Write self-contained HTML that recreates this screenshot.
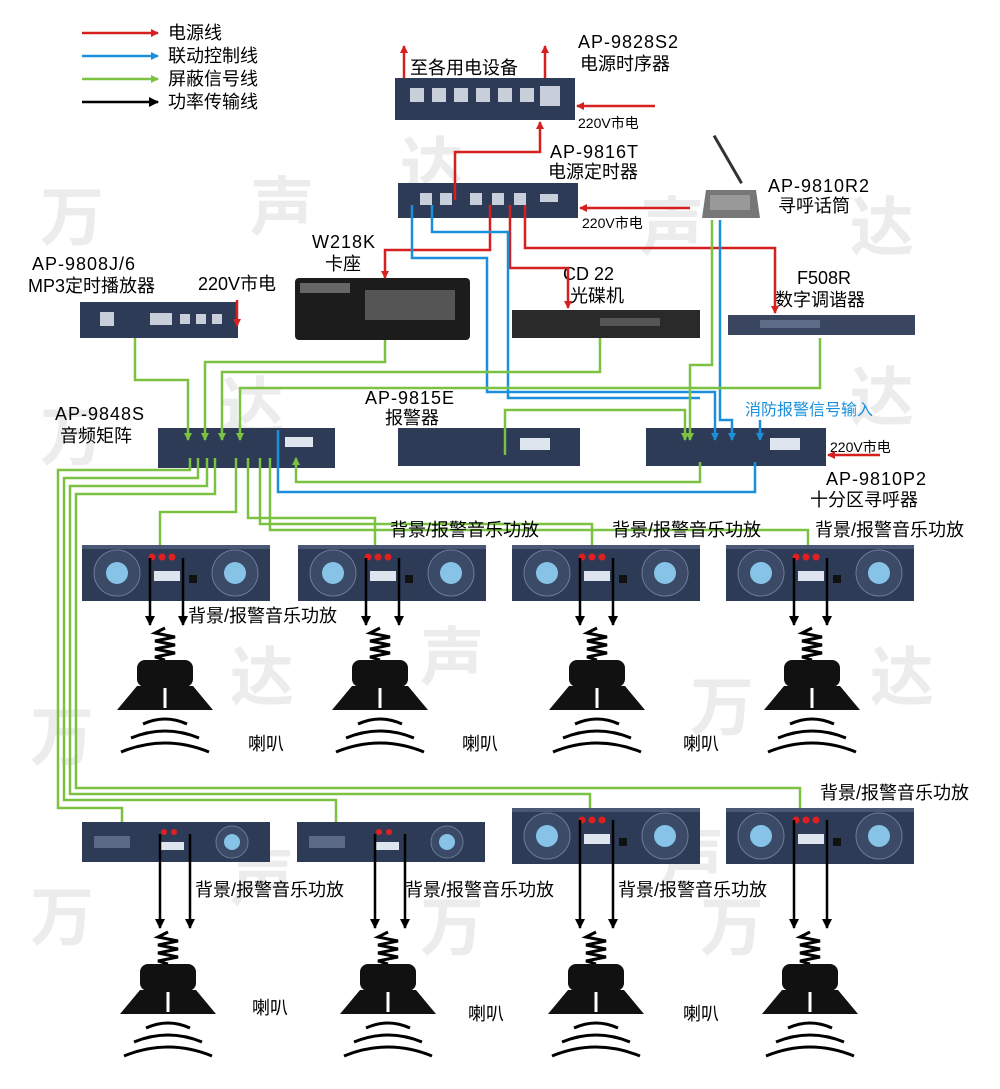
<!DOCTYPE html>
<html><head><meta charset="utf-8"><style>
body{margin:0;background:#fff}
svg{display:block}
text{font-family:"Liberation Sans","Noto Sans CJK SC",sans-serif;fill:#000}
.wm text{font-size:64px;fill:#ececec;font-weight:bold}
.t{font-size:18px}
.s{font-size:14px}
</style></head><body>
<svg width="1000" height="1089" viewBox="0 0 1000 1089" xmlns="http://www.w3.org/2000/svg">
<defs>
<marker id="ar" markerWidth="8" markerHeight="8" refX="7" refY="4" orient="auto" markerUnits="userSpaceOnUse"><path d="M0,0L8,4L0,8z" fill="#d62020"/></marker>
<marker id="ab" markerWidth="8" markerHeight="8" refX="7" refY="4" orient="auto" markerUnits="userSpaceOnUse"><path d="M0,0L8,4L0,8z" fill="#1a8fdc"/></marker>
<marker id="ag" markerWidth="8" markerHeight="8" refX="7" refY="4" orient="auto" markerUnits="userSpaceOnUse"><path d="M0,0L8,4L0,8z" fill="#7cc242"/></marker>
<marker id="ak" markerWidth="10" markerHeight="10" refX="9" refY="5" orient="auto" markerUnits="userSpaceOnUse"><path d="M0,0L10,5L0,10z" fill="#000"/></marker>
<g id="amp2">
<rect x="0" y="0" width="188" height="56" fill="#2d3b57"/>
<rect x="0" y="0" width="188" height="4" fill="#4a5875"/>
<circle cx="35" cy="28" r="23" fill="#3b4a66" stroke="#6b7b98"/><circle cx="35" cy="28" r="11" fill="#86c3e6"/>
<circle cx="153" cy="28" r="23" fill="#3b4a66" stroke="#6b7b98"/><circle cx="153" cy="28" r="11" fill="#86c3e6"/>
<circle cx="70" cy="12" r="3.5" fill="#e02020"/><circle cx="80" cy="12" r="3.5" fill="#e02020"/><circle cx="90" cy="12" r="3.5" fill="#e02020"/>
<rect x="72" y="26" width="26" height="10" fill="#dfe5ee"/>
<rect x="107" y="30" width="8" height="8" fill="#111"/>
</g>
<g id="amp1">
<rect x="0" y="0" width="188" height="40" fill="#2d3b57"/>
<rect x="12" y="14" width="36" height="12" fill="#5a6985"/>
<circle cx="150" cy="20" r="16" fill="#3b4a66" stroke="#6b7b98"/><circle cx="150" cy="20" r="8" fill="#86c3e6"/>
<circle cx="82" cy="10" r="3" fill="#e02020"/><circle cx="92" cy="10" r="3" fill="#e02020"/><rect x="78" y="20" width="24" height="8" fill="#dfe5ee"/>
</g>
<g id="spk" fill="none">
<polyline points="40,0 30,5 50,9 30,13 50,17 30,21 50,25 30,29 40,32" stroke="#000" stroke-width="3"/>
<rect x="12" y="32" width="56" height="27" rx="8" fill="#111"/>
<polygon points="-8,82 12,58 68,58 88,82" fill="#111"/>
<line x1="40" y1="60" x2="40" y2="80" stroke="#fff" stroke-width="3"/>
<path d="M18,96 Q40,86 62,96" stroke="#000" stroke-width="3"/>
<path d="M6,110 Q40,96 74,110" stroke="#000" stroke-width="3"/>
<path d="M-4,124 Q40,106 84,124" stroke="#000" stroke-width="3"/>
</g>
</defs>

<!-- watermarks -->
<g class="wm">
<text x="40" y="240">万</text><text x="250" y="230">声</text><text x="400" y="190">达</text>
<text x="40" y="460">万</text><text x="220" y="430">达</text><text x="420" y="680">声</text><text x="230" y="700">达</text>
<text x="30" y="760">万</text><text x="640" y="250">声</text><text x="850" y="250">达</text><text x="850" y="420">达</text>
<text x="690" y="730">万</text><text x="870" y="700">达</text><text x="30" y="940">万</text><text x="230" y="900">声</text>
<text x="420" y="950">万</text><text x="660" y="880">声</text><text x="700" y="950">万</text>
</g>

<!-- legend -->
<g stroke-width="2.5">
<line x1="82" y1="33" x2="158" y2="33" stroke="#d62020" marker-end="url(#ar)"/>
<line x1="82" y1="56" x2="158" y2="56" stroke="#1a8fdc" marker-end="url(#ab)"/>
<line x1="82" y1="79" x2="158" y2="79" stroke="#7cc242" marker-end="url(#ag)"/>
<line x1="82" y1="102" x2="158" y2="102" stroke="#000" marker-end="url(#ak)"/>
</g>
<text class="t" x="168" y="39">电源线</text><text class="t" x="168" y="62">联动控制线</text>
<text class="t" x="168" y="85">屏蔽信号线</text><text class="t" x="168" y="108">功率传输线</text>

<!-- device labels -->
<text class="t" x="578" y="48" letter-spacing="1">AP-9828S2</text><text class="t" x="580" y="70">电源时序器</text>
<text class="t" x="410" y="74">至各用电设备</text>
<text class="s" x="578" y="128">220V市电</text>
<text class="t" x="550" y="158" letter-spacing="1">AP-9816T</text><text class="t" x="548" y="178">电源定时器</text>
<text class="s" x="582" y="228">220V市电</text>
<text class="t" x="768" y="192" letter-spacing="1">AP-9810R2</text><text class="t" x="778" y="212">寻呼话筒</text>
<text class="t" x="312" y="248" letter-spacing="1">W218K</text><text class="t" x="325" y="270">卡座</text>
<text class="t" x="32" y="270" letter-spacing="1">AP-9808J/6</text><text class="t" x="28" y="292">MP3定时播放器</text>
<text class="t" x="198" y="290">220V市电</text>
<text class="t" x="563" y="280">CD 22</text><text class="t" x="570" y="302">光碟机</text>
<text class="t" x="797" y="284">F508R</text><text class="t" x="775" y="306">数字调谐器</text>
<text class="t" x="365" y="404" letter-spacing="1">AP-9815E</text><text class="t" x="385" y="424">报警器</text>
<text class="t" x="55" y="420" letter-spacing="1">AP-9848S</text><text class="t" x="60" y="442">音频矩阵</text>
<text x="745" y="415" style="font-size:16px;fill:#1a8fdc">消防报警信号输入</text>
<text class="s" x="830" y="452">220V市电</text>
<text class="t" x="826" y="485" letter-spacing="1">AP-9810P2</text><text class="t" x="810" y="506">十分区寻呼器</text>

<!-- devices -->
<rect x="395" y="78" width="180" height="42" fill="#2d3b57"/>
<g fill="#c8cfda"><rect x="410" y="88" width="14" height="14"/><rect x="432" y="88" width="14" height="14"/><rect x="454" y="88" width="14" height="14"/><rect x="476" y="88" width="14" height="14"/><rect x="498" y="88" width="14" height="14"/><rect x="520" y="88" width="14" height="14"/><rect x="540" y="86" width="20" height="20"/></g>
<rect x="398" y="183" width="180" height="35" fill="#2d3b57"/>
<g fill="#c8cfda"><rect x="420" y="193" width="12" height="12"/><rect x="440" y="193" width="12" height="12"/><rect x="470" y="193" width="12" height="12"/><rect x="492" y="193" width="12" height="12"/><rect x="514" y="193" width="12" height="12"/><rect x="540" y="194" width="18" height="8"/></g>
<rect x="740" y="128" width="3" height="55" fill="#333" transform="rotate(-30 742 183)"/>
<polygon points="702,218 760,218 756,190 706,190" fill="#777"/><rect x="710" y="195" width="40" height="15" fill="#999"/>
<rect x="80" y="302" width="158" height="36" fill="#2d3b57"/>
<g fill="#c8cfda"><rect x="100" y="312" width="14" height="14"/><rect x="150" y="313" width="22" height="12"/><rect x="180" y="314" width="10" height="10"/><rect x="196" y="314" width="10" height="10"/><rect x="212" y="314" width="10" height="10"/></g>
<rect x="295" y="278" width="175" height="62" rx="4" fill="#1c1c1c"/>
<rect x="365" y="290" width="90" height="30" fill="#555"/><rect x="300" y="283" width="50" height="10" fill="#666"/>
<rect x="512" y="310" width="188" height="28" fill="#2a2a2a"/><rect x="600" y="318" width="60" height="8" fill="#555"/>
<rect x="728" y="315" width="187" height="20" fill="#3a4660"/><rect x="760" y="320" width="60" height="8" fill="#5e6c88"/>
<rect x="158" y="428" width="177" height="40" fill="#2d3b57"/>
<rect x="285" y="437" width="28" height="10" fill="#dfe5ee"/>
<rect x="398" y="428" width="182" height="38" fill="#2d3b57"/><rect x="520" y="438" width="30" height="12" fill="#dfe5ee"/>
<rect x="646" y="428" width="180" height="38" fill="#2d3b57"/><rect x="770" y="438" width="30" height="12" fill="#dfe5ee"/>

<!-- red lines -->
<g stroke="#d62020" stroke-width="2.5" fill="none">
<line x1="404" y1="78" x2="404" y2="46" marker-end="url(#ar)"/>
<line x1="545" y1="78" x2="545" y2="46" marker-end="url(#ar)"/>
<line x1="655" y1="106" x2="577" y2="106" marker-end="url(#ar)"/>
<polyline points="455,200 455,152 540,152 540,122" marker-end="url(#ar)"/>
<line x1="690" y1="208" x2="580" y2="208" marker-end="url(#ar)"/>
<polyline points="490,205 490,250 385,250 385,278" marker-end="url(#ar)"/>
<polyline points="510,205 510,268 568,268 568,308" marker-end="url(#ar)"/>
<polyline points="525,205 525,248 775,248 775,313" marker-end="url(#ar)"/>
<line x1="237" y1="300" x2="237" y2="326" marker-end="url(#ar)"/>
<line x1="880" y1="455" x2="828" y2="455" marker-end="url(#ar)"/>
</g>

<!-- blue lines -->
<g stroke="#1a8fdc" stroke-width="2.5" fill="none">
<polyline points="412,205 412,258 487,258 487,392 715,392 715,440" marker-end="url(#ab)"/>
<polyline points="432,205 432,232 508,232 508,398 700,398"/>
<polyline points="720,220 720,420 732,420 732,440" marker-end="url(#ab)"/>
<polyline points="760,420 760,440" marker-end="url(#ab)"/>
<polyline points="278,430 278,492 755,492 755,462"/>
</g>

<!-- green lines -->
<g stroke="#7cc242" stroke-width="2.5" fill="none">
<polyline points="135,338 135,380 188,380 188,440" marker-end="url(#ag)"/>
<polyline points="385,340 385,362 205,362 205,440" marker-end="url(#ag)"/>
<polyline points="600,338 600,372 222,372 222,440" marker-end="url(#ag)"/>
<polyline points="820,338 820,388 240,388 240,440" marker-end="url(#ag)"/>
<polyline points="505,455 505,410 685,410 685,440" marker-end="url(#ag)"/>
<polyline points="712,220 712,365 690,365 690,440" marker-end="url(#ag)"/>
<polyline points="700,462 700,482 296,482 296,458" marker-end="url(#ag)"/>
<polyline points="236,458 236,512 160,512 160,582" marker-end="url(#ag)"/>
<polyline points="248,458 248,518 375,518 375,582" marker-end="url(#ag)"/>
<polyline points="260,458 260,524 592,524 592,582" marker-end="url(#ag)"/>
<polyline points="270,458 270,530 808,530 808,582" marker-end="url(#ag)"/>
<polyline points="190,458 190,470 58,470 58,808 122,808 122,830" marker-end="url(#ag)"/>
<polyline points="198,458 198,478 64,478 64,800 336,800 336,830" marker-end="url(#ag)"/>
<polyline points="207,458 207,486 70,486 70,794 590,794 590,840" marker-end="url(#ag)"/>
<polyline points="215,458 215,494 76,494 76,788 800,788 800,840" marker-end="url(#ag)"/>
</g>

<use href="#amp2" x="82" y="545"/><use href="#amp2" x="298" y="545"/><use href="#amp2" x="512" y="545"/><use href="#amp2" x="726" y="545"/>
<use href="#amp1" x="82" y="822"/><use href="#amp1" x="297" y="822"/><use href="#amp2" x="512" y="808"/><use href="#amp2" x="726" y="808"/>

<g stroke="#000" stroke-width="2.5">
<line x1="150" y1="558" x2="150" y2="625" marker-end="url(#ak)"/><line x1="183" y1="558" x2="183" y2="625" marker-end="url(#ak)"/>
<line x1="366" y1="558" x2="366" y2="625" marker-end="url(#ak)"/><line x1="399" y1="558" x2="399" y2="625" marker-end="url(#ak)"/>
<line x1="580" y1="558" x2="580" y2="625" marker-end="url(#ak)"/><line x1="613" y1="558" x2="613" y2="625" marker-end="url(#ak)"/>
<line x1="794" y1="558" x2="794" y2="625" marker-end="url(#ak)"/><line x1="827" y1="558" x2="827" y2="625" marker-end="url(#ak)"/>
<line x1="160" y1="834" x2="160" y2="928" marker-end="url(#ak)"/><line x1="190" y1="834" x2="190" y2="928" marker-end="url(#ak)"/>
<line x1="375" y1="834" x2="375" y2="928" marker-end="url(#ak)"/><line x1="405" y1="834" x2="405" y2="928" marker-end="url(#ak)"/>
<line x1="580" y1="820" x2="580" y2="928" marker-end="url(#ak)"/><line x1="613" y1="820" x2="613" y2="928" marker-end="url(#ak)"/>
<line x1="794" y1="820" x2="794" y2="928" marker-end="url(#ak)"/><line x1="827" y1="820" x2="827" y2="928" marker-end="url(#ak)"/>
</g>

<use href="#spk" x="125" y="628"/><use href="#spk" x="340" y="628"/><use href="#spk" x="557" y="628"/><use href="#spk" x="772" y="628"/>
<use href="#spk" x="128" y="932"/><use href="#spk" x="348" y="932"/><use href="#spk" x="556" y="932"/><use href="#spk" x="770" y="932"/>

<text class="t" x="188" y="622">背景/报警音乐功放</text>
<text class="t" x="390" y="536">背景/报警音乐功放</text>
<text class="t" x="612" y="536">背景/报警音乐功放</text>
<text class="t" x="815" y="536">背景/报警音乐功放</text>
<text class="t" x="820" y="799">背景/报警音乐功放</text>
<text class="t" x="195" y="896">背景/报警音乐功放</text>
<text class="t" x="405" y="896">背景/报警音乐功放</text>
<text class="t" x="618" y="896">背景/报警音乐功放</text>
<text class="t" x="248" y="750">喇叭</text><text class="t" x="462" y="750">喇叭</text><text class="t" x="683" y="750">喇叭</text>
<text class="t" x="252" y="1014">喇叭</text><text class="t" x="468" y="1020">喇叭</text><text class="t" x="683" y="1020">喇叭</text>
</svg>
</body></html>
